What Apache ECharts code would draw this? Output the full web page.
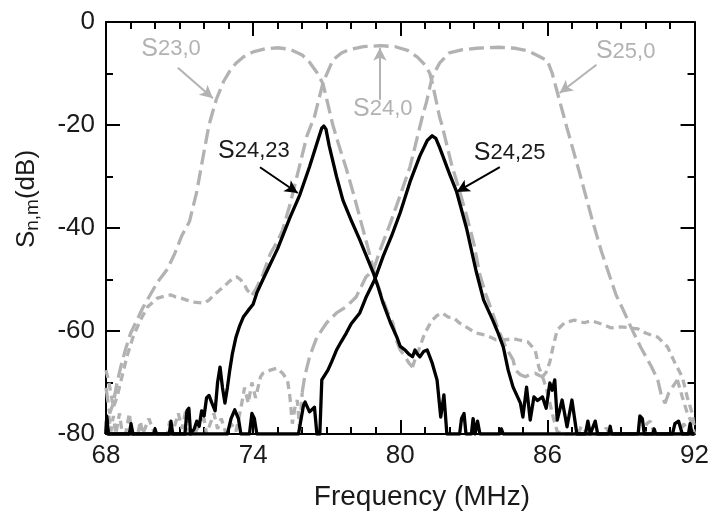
<!DOCTYPE html>
<html><head><meta charset="utf-8">
<script src="https://cdn.jsdelivr.net/npm/echarts@6/dist/echarts.min.js"></script>
<style>html,body{margin:0;padding:0;background:#fff}#c{width:712px;height:520px}</style>
</head><body><div id="c"></div>
<script>
// ---- axis ticks ----
const xTicks = [68, 74, 80, 86, 92];
const yTicks = [-80, -60, -40, -20, 0];

// ---- S23,0 (gray) [MHz, dB] ----
const s23_0 = [
[68.0,-71],[68.15,-76],[68.3,-74],[68.45,-70],[68.6,-67],[68.8,-63.5],[69.0,-60.5],[69.25,-58],[69.5,-55.5],[69.8,-53],[70.1,-50.5],[70.5,-48],[70.8,-45],[71.1,-41.4],[71.4,-38.8],[71.7,-33],[71.95,-26.4],[72.2,-20],[72.5,-15],[72.8,-11.5],[73.05,-9.5],[73.3,-8],[73.6,-6.8],[74.0,-5.8],[74.5,-5.2],[75.0,-5.0],[75.5,-5.3],[76.0,-6.4],[76.3,-7.8],[76.6,-9.8],[76.85,-12],[77.0,-15],[77.25,-20],[77.5,-24],[77.8,-28.5],[78.1,-33.5],[78.5,-40.6],[78.8,-46],[79.04,-50.5],[79.3,-54],[79.5,-56.5],[79.7,-58.5],[79.86,-62],[80.0,-63.7],[80.2,-65],[80.35,-66.2],[80.5,-67],
[80.6,-65.5],[80.75,-63.7],[81.0,-60.4],[81.3,-57.9],[81.5,-57],[81.7,-56.5],[81.96,-57.3],[82.2,-57.5],[82.4,-58.4],[82.75,-59.4],[83.08,-60.4],[83.5,-60.8],[83.9,-61.7],[84.3,-61.7],[84.6,-61.5],[84.8,-61.7],[85.2,-62.1],[85.5,-63.7],[85.65,-67],[85.8,-68.9],[85.95,-68],[86.1,-66],[86.2,-63.7],[86.4,-59.8],[86.7,-58.4],[87.1,-57.9],[87.5,-58.4],[87.8,-58],[88.05,-58.4],[88.3,-58.8],[88.6,-59.4],[89.0,-59.2],[89.4,-59.4],[89.7,-59.6],[90.0,-60.4],[90.5,-61.2],[90.9,-63.1],[91.2,-66.2],[91.5,-68.9],[91.7,-72.8],[91.9,-75.9],[92.0,-79]
];
// ---- S24,0 (gray) ----
const s24_0 = [
[68.0,-67.6],[68.1,-69.5],[68.3,-74.8],[68.45,-72.8],[68.65,-68.9],[68.85,-65],[69.1,-61.2],[69.4,-57.9],[69.7,-55.3],[70.1,-53.6],[70.4,-53.2],[70.65,-53],[70.85,-53.4],[71.05,-53.6],[71.3,-54],[71.6,-54.4],[72.0,-54.6],[72.2,-54],[72.4,-53],[72.6,-52.2],[72.8,-51.4],[73.0,-50.5],[73.2,-49.7],[73.35,-49.5],[73.5,-50.1],[73.65,-51],[73.75,-52],[73.95,-53],
[74.1,-52],[74.4,-49],[74.7,-45],[75.0,-42.5],[75.2,-40.4],[75.5,-35.5],[75.9,-27.8],[76.2,-22],[76.5,-18.4],[76.85,-11.8],[77.25,-7.4],[77.6,-6],[77.9,-5.4],[78.5,-4.8],[79.2,-4.6],[79.8,-4.8],[80.3,-5.5],[80.7,-6.8],[81.0,-8.3],[81.2,-9.9],[81.3,-11.7],[81.45,-15],[81.6,-18.4],[81.7,-20],[82.1,-27.8],[82.4,-32.5],[82.7,-37.5],[83.0,-43],[83.24,-49],[83.5,-53],[83.8,-57],[84.0,-59.8],[84.3,-63.1],[84.6,-65.6],[84.7,-67.6],[84.9,-68.5],[85.1,-68.9],[85.3,-68.4],[85.5,-68.2],[85.65,-68.6],[85.8,-68.9],
[85.95,-71],[86.1,-74],[86.25,-77],[86.4,-79.5],[86.6,-80],[87.25,-80],[87.38,-78.5],[87.5,-79],[87.62,-80],[88.25,-80],[88.4,-78.8],[88.55,-80],[89.95,-80],[90.05,-78],[90.2,-77.5],[90.35,-80],[91.4,-80],[91.55,-78],[91.7,-79],[92.0,-80]
];
// ---- S25,0 (gray) ----
const s25_0 = [
[68.0,-78],[68.1,-76],[68.2,-79.5],[68.3,-76.5],[68.4,-80],[68.55,-76],[68.65,-79.5],[68.8,-80],[68.95,-76],[69.05,-80],[69.3,-80],[69.4,-77.5],[69.5,-80],[69.75,-77],[69.9,-79],[70.0,-80],[70.5,-80],[70.6,-77.5],[70.7,-80],[70.95,-76],[71.1,-79],[71.25,-75.5],[71.4,-80],[71.6,-80],[71.85,-78],[72.0,-77],[72.1,-80],[72.4,-76],[72.55,-79],[72.7,-77],[72.9,-80],[73.1,-78],[73.3,-79.5],[73.5,-75],[73.65,-71],[73.8,-74],[73.95,-70],[74.1,-73],[74.3,-68.9],[74.4,-68.2],[74.7,-67.6],[74.97,-67.2],[75.2,-68.2],[75.4,-69.5],[75.5,-72.8],[75.6,-78],[75.7,-75],[75.8,-73.4],[75.9,-79.2],[76.0,-72],
[76.1,-68.9],[76.3,-65],[76.6,-61.2],[77.0,-58.4],[77.4,-56.5],[77.8,-55.3],[78.2,-53.4],[78.6,-49.5],[78.9,-48.2],[79.2,-44],[79.6,-39],[80.0,-33.6],[80.4,-28.1],[80.9,-18.4],[81.07,-15.5],[81.3,-10.7],[81.6,-8],[82.0,-6],[82.5,-5.4],[83.1,-5.1],[83.5,-5.0],[84.0,-4.9],[84.7,-5.1],[85.2,-5.6],[85.55,-6.4],[86.0,-7.5],[86.2,-10],[86.4,-13.6],[86.8,-20.6],[87.3,-29.1],[87.85,-38.8],[88.2,-44.5],[88.46,-48.2],[88.8,-53],[89.1,-56],[89.4,-59.2],[89.8,-63.1],[90.25,-67],[90.5,-69.5],[90.66,-72.8],[90.8,-74],[90.95,-72],[91.1,-70.9],[91.3,-69.5],
[91.5,-72.8],[91.7,-75.9],[91.9,-78],[92.0,-80]
];
// ---- S24,23 (black) ----
const s24_23 = [
[68.0,-80],[68.03,-77],[68.08,-80],[68.95,-80],[69.02,-78],[69.1,-80],[69.95,-80],[70.0,-79],[70.06,-80],[70.58,-80],[70.65,-77.5],[70.72,-80],[71.22,-80],[71.3,-75.5],[71.38,-75],[71.45,-80],[71.6,-79],[71.7,-77.5],[71.8,-78.5],[71.9,-75.5],[72.0,-76.5],[72.1,-73],[72.2,-72.5],[72.32,-74],[72.45,-75.5],[72.55,-70],[72.65,-67],[72.75,-71],[72.85,-74],[72.95,-71],[73.05,-67.5],[73.15,-64.5],[73.3,-61.2],[73.45,-59],[73.6,-57.3],[73.8,-56],[74.0,-54.8],[74.15,-52.6],[74.4,-50],[74.7,-47],[75.0,-44],[75.25,-41],[75.5,-38],[75.9,-33.6],[76.3,-28.1],[76.65,-22.8],[76.8,-20.6],[76.88,-20.2],[76.97,-20.8],[77.1,-24],[77.4,-30],[77.66,-34.6],[78.0,-38.5],[78.35,-42.3],[78.65,-45.8],[78.9,-48.7],[79.1,-51.5],[79.3,-54.6],[79.6,-58.4],[79.86,-61.2],[80.0,-63],[80.2,-63.7],[80.35,-64.5],[80.5,-65],[80.6,-63.7],[80.7,-64.5],[80.8,-65],[80.95,-64],[81.1,-63.7],[81.3,-66.2],[81.5,-69.5],[81.65,-76.7],[81.78,-72.4],[81.9,-80],[82.42,-80],[82.5,-77],[82.6,-76],[82.68,-80],[82.9,-80],[82.97,-77],[83.05,-80],[83.15,-77.5],[83.25,-80],[84.05,-80],[84.12,-79],[84.2,-80],[87.55,-80],[87.65,-77.5],[87.75,-80],[87.95,-77.5],[88.05,-80],[88.5,-80],[88.56,-78.5],[88.62,-80],[90.3,-80],[90.35,-79],[90.42,-80],[92.0,-80]
];
// ---- S24,25 (black) ----
const s24_25 = [
[68.0,-80],[68.03,-76.5],[68.1,-80],[72.95,-80],[73.1,-77],[73.25,-75.3],[73.4,-77],[73.5,-80],[73.85,-80],[73.95,-76],[74.05,-77],[74.15,-80],[75.85,-80],[76.05,-74.5],[76.12,-73.8],[76.3,-75.7],[76.5,-74.8],[76.6,-80],[76.72,-80],[76.8,-69.5],[77.05,-67.6],[77.2,-66],[77.4,-63.7],[77.6,-62],[77.8,-60.4],[78.0,-58.6],[78.35,-56.5],[78.6,-53.5],[78.96,-50],[79.3,-45.5],[79.65,-41.5],[80.0,-37],[80.4,-31],[80.8,-26],[81.1,-23],[81.3,-22.1],[81.45,-22.6],[81.6,-24.3],[82.0,-29.4],[82.3,-33],[82.7,-40],[83.1,-48.5],[83.4,-54],[83.77,-57.9],[84.0,-60.5],[84.2,-63.1],[84.4,-67.6],[84.6,-70.9],[84.9,-74],[85.0,-76.7],[85.15,-70.9],[85.3,-77.3],[85.45,-72.8],[85.6,-73.5],[85.8,-72.8],[85.95,-75],[86.1,-70.1],[86.2,-71.5],[86.3,-69.5],[86.4,-77.3],[86.6,-73.4],[86.8,-78.6],[87.0,-73.4],[87.2,-80],[89.7,-80],[89.77,-76.5],[89.87,-77],[89.95,-80],[91.1,-80],[91.2,-78],[91.35,-77.5],[91.5,-80],[91.75,-80],[91.82,-78],[91.9,-80],[92.0,-80]
];
// ---- passband ranges (long dashes); outside = tails (short dashes) ----
const passRanges = { s23_0: [68.0, 80.5], s24_0: [73.95, 85.8], s25_0: [76.0, 91.3] };

// ---- annotations (data coordinates) ----
const labelTexts = [
  { main: 'S', sub: '24,23', at: [74.03, -25.05], gray: false },
  { main: 'S', sub: '24,25', at: [84.46, -25.5], gray: false },
  { main: 'S', sub: '23,0',  at: [70.65, -5.3],  gray: true },
  { main: 'S', sub: '24,0',  at: [79.29, -16.9], gray: true },
  { main: 'S', sub: '25,0',  at: [89.19, -5.73], gray: true }
];
const blackArrows = [ [[74.28, -28.2], [75.82, -33.2]], [[84.06, -28.2], [82.3, -33.0]] ];
const grayArrows  = [ [[70.93, -8.9], [72.36, -14.8]], [[79.17, -15.1], [79.17, -5.0]], [[88.0, -8.3], [86.5, -13.8]] ];

const GRAY = '#b2b2b2', BLACK = '#000000', TXT = '#1a1a1a';
const FONT = "'Liberation Sans', Arial, Helvetica, sans-serif";

function seg(data, a, b) { return data.filter(p => p[0] >= a && p[0] <= b); }
function grayLine(data, dash, extra) {
  return Object.assign({ type: 'line', data: data, symbol: 'none', showSymbol: false, clip: true,
    lineStyle: { color: GRAY, width: 3.3, type: dash, cap: 'butt' }, z: 2, silent: true, animation: false }, extra || {});
}
const LONG = [15, 6], SHORT = [8, 5];
function arrowML(list, color) {
  return { silent: true, animation: false, symbol: ['none', 'arrow'], symbolSize: 12,
    lineStyle: { color: color, width: 2, type: 'solid' }, label: { show: false },
    emphasis: { disabled: true },
    data: list.map(a => [{ coord: a[0], symbol: 'none' }, { coord: a[1], symbol: 'arrow', symbolSize: [10, 13] }]) };
}

const series = [];
const [a23, b23] = passRanges.s23_0, [a24, b24] = passRanges.s24_0, [a25, b25] = passRanges.s25_0;
series.push(grayLine(seg(s23_0, a23, b23), LONG, { markLine: arrowML(grayArrows, GRAY) }));
series.push(grayLine(seg(s23_0, b23, 92), SHORT));
series.push(grayLine(seg(s24_0, 68, a24), SHORT));
series.push(grayLine(seg(s24_0, a24, b24), LONG));
series.push(grayLine(seg(s24_0, b24, 92), SHORT));
series.push(grayLine(seg(s25_0, 68, a25), SHORT));
series.push(grayLine(seg(s25_0, a25, b25), LONG));
series.push(grayLine(seg(s25_0, b25, 92), SHORT));
series.push({ type: 'line', data: s24_23, symbol: 'none', showSymbol: false, clip: true, z: 4, silent: true, animation: false,
  lineStyle: { color: BLACK, width: 3.3, join: 'round' }, markLine: arrowML(blackArrows, BLACK) });
series.push({ type: 'line', data: s24_25, symbol: 'none', showSymbol: false, clip: true, z: 4, silent: true, animation: false,
  lineStyle: { color: BLACK, width: 3.3, join: 'round' } });

function axisCommon(showLabel) {
  return {
    axisLine: { show: true, onZero: false, lineStyle: { color: '#000', width: 2 } },
    axisTick: { show: true, inside: true, length: 14, lineStyle: { color: '#000', width: 2 } },
    minorTick: { show: true, length: 7, lineStyle: { color: '#000', width: 2 } },
    splitLine: { show: false }, minorSplitLine: { show: false },
    axisLabel: { show: showLabel, fontSize: 26, color: TXT, fontFamily: FONT, margin: 9 }
  };
}
const xMain = Object.assign({ type: 'value', min: xTicks[0], max: xTicks[xTicks.length - 1], interval: xTicks[1] - xTicks[0], position: 'bottom' }, axisCommon(true));
xMain.minorTick.splitNumber = 6;
const xTop = Object.assign({ type: 'value', min: xTicks[0], max: xTicks[xTicks.length - 1], interval: xTicks[1] - xTicks[0], position: 'top' }, axisCommon(false));
xTop.minorTick.splitNumber = 6;
const yMain = Object.assign({ type: 'value', min: yTicks[0], max: yTicks[yTicks.length - 1], interval: yTicks[1] - yTicks[0], position: 'left' }, axisCommon(true));
yMain.minorTick.splitNumber = 2;
yMain.axisLabel.margin = 11;
const yRight = Object.assign({ type: 'value', min: yTicks[0], max: yTicks[yTicks.length - 1], interval: yTicks[1] - yTicks[0], position: 'right' }, axisCommon(false));
yRight.minorTick.splitNumber = 2;

const chart = echarts.init(document.getElementById('c'), null, { renderer: 'canvas' });
chart.setOption({
  animation: false,
  backgroundColor: '#ffffff',
  grid: { left: 106, right: 17, top: 22, bottom: 86, containLabel: false },
  xAxis: [xMain, xTop],
  yAxis: [yMain, yRight],
  series: series
});

// annotation texts placed through the chart's own coordinate conversion
const graphics = labelTexts.map(l => {
  const p = chart.convertToPixel({ xAxisIndex: 0, yAxisIndex: 0 }, l.at);
  const col = l.gray ? GRAY : TXT;
  return { type: 'text', x: p[0], y: p[1], z: 10, silent: true,
    style: { text: '{m|' + l.main + '}{s|' + l.sub + '}', align: 'center', verticalAlign: 'middle',
      rich: { m: { fontSize: 25, fontFamily: FONT, fill: col, lineHeight: 28 },
              s: { fontSize: 22, fontFamily: FONT, fill: col, lineHeight: 28 } } } };
});
// axis titles
graphics.push({ type: 'text', x: 422, y: 497, silent: true,
  style: { text: 'Frequency (MHz)', fontSize: 28, fontFamily: FONT, fill: TXT, align: 'center', verticalAlign: 'middle' } });
graphics.push({ type: 'text', x: 27, y: 199, rotation: Math.PI / 2, silent: true,
  style: { text: '{m|S}{s|n,m}{m|(dB)}', align: 'center', verticalAlign: 'middle',
    rich: { m: { fontSize: 26, fontFamily: FONT, fill: TXT, lineHeight: 30 },
            s: { fontSize: 19, fontFamily: FONT, fill: TXT, lineHeight: 24, verticalAlign: 'bottom' } } } });
chart.setOption({ graphic: graphics });
</script>
</body></html>
